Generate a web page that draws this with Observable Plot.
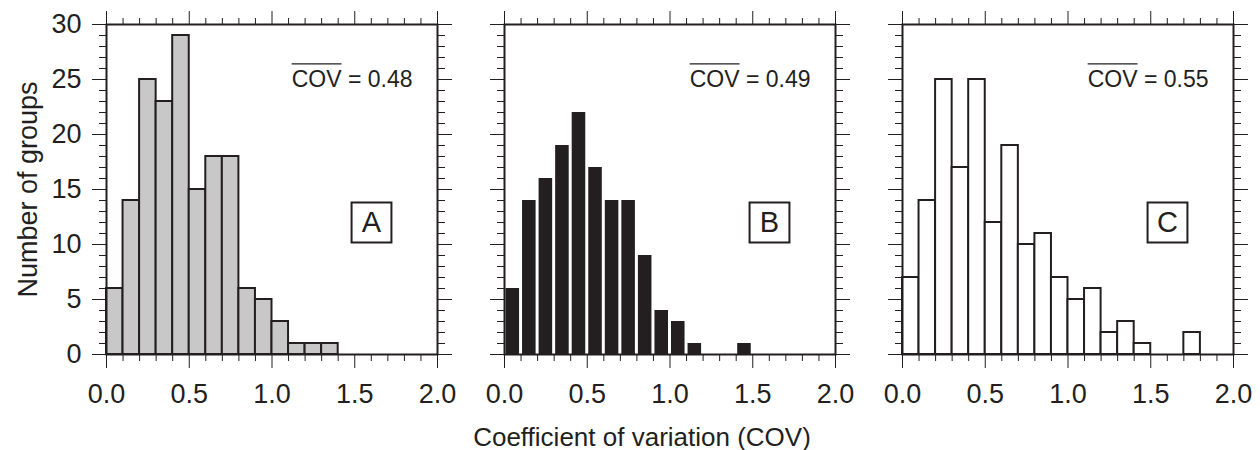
<!DOCTYPE html>
<html><head><meta charset="utf-8">
<script src="https://cdn.jsdelivr.net/npm/d3@7"></script>
<script src="https://cdn.jsdelivr.net/npm/@observablehq/plot@0.6"></script>
<style>body{margin:0;background:#fff;}</style>
</head><body><div id="chart"></div>
<script>
const binEdges = [0.0,0.1,0.2,0.3,0.4,0.5,0.6,0.7,0.8,0.9,1.0,1.1,1.2,1.3,1.4,1.5,1.6,1.7,1.8,1.9,2.0];
const countsA = [6,14,25,23,29,15,18,18,6,5,3,1,1,1,0,0,0,0,0,0];
const countsB = [6,14,16,19,22,17,14,14,9,4,3,1,0,0,1,0,0,0,0,0];
const countsC = [7,14,25,17,25,12,19,10,11,7,5,6,2,3,1,0,0,2,0,0];
const panels = ["A","B","C"];
const meanCOV = [0.48,0.49,0.55];
const xMajorTicks = [0.0,0.5,1.0,1.5,2.0];
const xMinorTicks = [0.1,0.2,0.3,0.4,0.6,0.7,0.8,0.9,1.1,1.2,1.3,1.4,1.6,1.7,1.8,1.9];
const yMajorTicks = [0,5,10,15,20,25,30];
const yMinorTicks = [1,2,3,4,6,7,8,9,11,12,13,14,16,17,18,19,21,22,23,24,26,27,28,29];
const xTitle = "Coefficient of variation (COV)";
const yTitle = "Number of groups";

const ink = "#231f20";
function bars(panel, counts) {
  return counts.map((c, i) => ({panel, x1: binEdges[i], x2: binEdges[i + 1], count: c})).filter(d => d.count > 0);
}
const barsA = bars("A", countsA), barsB = bars("B", countsB), barsC = bars("C", countsC);
const notes = panels.map((p, i) => ({panel: p, mean: meanCOV[i]}));
const blank = () => "";

const plot = Plot.plot({
  width: 1260, height: 450,
  marginLeft: 106, marginRight: 27, marginTop: 24, marginBottom: 96,
  style: {fontFamily: "'Liberation Sans', Arial, Helvetica, sans-serif", fontSize: "27px", color: ink, background: "#fff"},
  fx: {domain: panels, paddingInner: 67 / 398, paddingOuter: 0},
  x: {domain: [0, 2]},
  y: {domain: [0, 30]},
  marks: [
    Plot.rectY(barsA, {x1: "x1", x2: "x2", y: "count", fx: "panel", fill: "#c8c8c8", stroke: ink, strokeWidth: 2}),
    Plot.rectY(barsB, {x1: "x1", x2: "x2", y: "count", fx: "panel", fill: ink, insetLeft: 1.5, insetRight: 1.5}),
    Plot.rectY(barsC, {x1: "x1", x2: "x2", y: "count", fx: "panel", fill: "#fff", stroke: ink, strokeWidth: 2}),
    Plot.text(notes, {fx: "panel", text: d => `COV = ${d.mean.toFixed(2)}`, frameAnchor: "top-right", textAnchor: "end", lineAnchor: "middle", dx: -25, dy: 55, fontSize: 23, fill: ink}),
    Plot.dot(notes, {fx: "panel", frameAnchor: "right", dx: -66, dy: 33, symbol: "square", r: 22.5, fill: "#fff", stroke: ink, strokeWidth: 2}),
    Plot.text(notes, {fx: "panel", text: "panel", frameAnchor: "right", textAnchor: "middle", dx: -66, dy: 33, lineAnchor: "middle", fontSize: 29, fill: ink}),
    Plot.axisY({anchor: "left", ticks: yMajorTicks, tickSize: 14, tickPadding: 11, tickFormat: d => String(d), label: yTitle, labelAnchor: "center", labelArrow: "none", labelOffset: 89}),
    Plot.axisY({anchor: "left", ticks: yMajorTicks, tickSize: 14, tickFormat: blank, label: null, facetAnchor: null}),
    Plot.axisY({anchor: "left", ticks: yMinorTicks, tickSize: 7, tickFormat: blank, label: null, facetAnchor: null}),
    Plot.axisY({anchor: "right", ticks: yMajorTicks, tickSize: 14, tickFormat: blank, label: null, facetAnchor: null}),
    Plot.axisY({anchor: "right", ticks: yMinorTicks, tickSize: 7, tickFormat: blank, label: null, facetAnchor: null}),
    Plot.axisX({anchor: "bottom", ticks: xMajorTicks, tickSize: 14, tickPadding: 15, tickFormat: d3.format(".1f"), label: null, facetAnchor: null}),
    Plot.axisX({anchor: "bottom", ticks: xMinorTicks, tickSize: 7, tickFormat: blank, label: null, facetAnchor: null}),
    Plot.axisX({anchor: "top", ticks: xMajorTicks, tickSize: 14, tickFormat: blank, label: null, facetAnchor: null}),
    Plot.axisX({anchor: "top", ticks: xMinorTicks, tickSize: 7, tickFormat: blank, label: null, facetAnchor: null}),
    Plot.axisFx({anchor: "bottom", tickSize: 0, tickFormat: blank, label: xTitle, labelAnchor: "center", labelArrow: "none", labelOffset: 91, fontSize: 26}),
    Plot.frame({stroke: ink, strokeWidth: 2})
  ]
});
document.getElementById("chart").appendChild(plot);
d3.select(plot).selectAll("text").each(function () {
  const t = this.textContent;
  if (t === xTitle) {
    d3.select(this).attr("dx", -28);
  }
  if (t.startsWith("COV = ")) {
    const rest = t.slice(3);
    this.textContent = "";
    const head = d3.select(this).append("tspan").text("COV").node();
    d3.select(this).append("tspan").text(rest);
    const p0 = head.getStartPositionOfChar(0);
    const p1 = head.getEndPositionOfChar(2);
    const em = parseFloat(getComputedStyle(this).fontSize) || 23;
    d3.select(this.parentNode).append("line")
      .attr("transform", this.getAttribute("transform"))
      .attr("x1", p0.x).attr("x2", p1.x)
      .attr("y1", p0.y - 1.0 * em).attr("y2", p0.y - 1.0 * em)
      .attr("stroke", ink).attr("stroke-width", 1.2);
  }
});
</script>
</body></html>
